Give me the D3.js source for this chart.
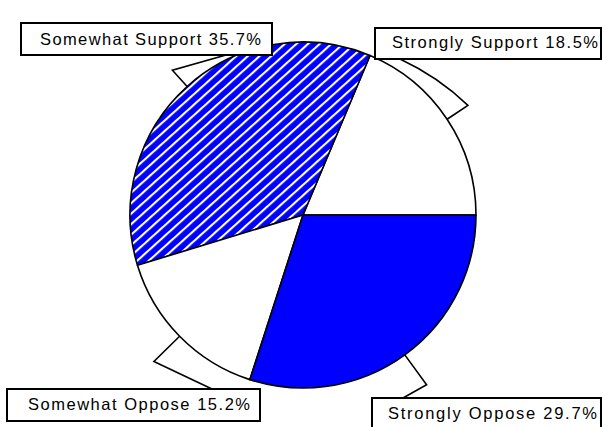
<!DOCTYPE html>
<html>
<head>
<meta charset="utf-8">
<script src="https://cdn.jsdelivr.net/npm/d3@7"></script>
<style>
  body { margin: 0; background: #fff; }
  svg text { font-family: "Liberation Sans", Arial, sans-serif; }
</style>
</head>
<body>
<div id="chart"></div>
<script>
// chart data
var categories = ["Strongly Support", "Somewhat Support", "Somewhat Oppose", "Strongly Oppose"];
var values = [18.5, 35.7, 15.2, 29.7];
var valueLabels = ["18.5%", "35.7%", "15.2%", "29.7%"];

(function() {
    'use strict';

    var width = 602, height = 427;
    var cx = 303, cy = 215, radius = 173;

    var fills = ["#ffffff", "url(#hatch)", "#ffffff", "#0000ff"];

    // label boxes + callout geometry (layout only)
    var callouts = [
        {box: [375, 28, 226, 31], tx: 392, ty: 48, tw: 206, elbow: 198, anchor: [400, 59], bend: true},
        {box: [21, 23, 251, 32], tx: 40, ty: 45, tw: 221, elbow: 195, anchor: [226, 55]},
        {box: [7, 389, 253, 32], tx: 28, ty: 410, tw: 222, elbow: 209, anchor: [212, 389]},
        {box: [372, 398, 229, 35], tx: 388, ty: 419, tw: 209, elbow: 210, anchor: [403, 398]}
    ];

    var svg = d3.select("#chart").append("svg")
        .attr("width", width)
        .attr("height", height);

    // diagonal stripe pattern
    var pat = svg.append("defs").append("pattern")
        .attr("id", "hatch")
        .attr("patternUnits", "userSpaceOnUse")
        .attr("width", 8)
        .attr("height", 7.8)
        .attr("patternTransform", "rotate(-42)");
    pat.append("rect").attr("width", 8).attr("height", 7.8).attr("fill", "#0000ff");
    pat.append("rect").attr("y", 0).attr("width", 8).attr("height", 2.1).attr("fill", "#ffffff");

    // start at 3 o'clock, go counter-clockwise
    var pie = d3.pie()
        .sort(null)
        .startAngle(Math.PI / 2)
        .endAngle(Math.PI / 2 - 2 * Math.PI);

    var arc = d3.arc().innerRadius(0).outerRadius(radius);

    var arcs = pie(values);

    var g = svg.append("g").attr("transform", "translate(" + cx + "," + cy + ")");

    g.selectAll(".slice")
        .data(arcs)
      .enter().append("path")
        .attr("class", "slice")
        .attr("d", arc)
        .attr("fill", function(d, i) { return fills[i]; })
        .attr("stroke", "#000")
        .attr("stroke-width", 1.6)
        .attr("stroke-linejoin", "round");

    function polar(a, r) {
        return [cx + r * Math.sin(a), cy - r * Math.cos(a)];
    }

    // callout tails
    svg.selectAll(".tail")
        .data(arcs)
      .enter().append("path")
        .attr("class", "tail")
        .attr("d", function(d, i) {
            var c = callouts[i];
            var mid = (d.startAngle + d.endAngle) / 2;
            var p0 = polar(mid, radius);
            var p1 = polar(mid, c.elbow);
            var p2 = c.anchor;
            if (c.bend) {
                var q = [(p1[0] + p2[0]) / 2 + 5, (p1[1] + p2[1]) / 2 - 5];
                return "M" + p0 + "L" + p1 + "Q" + q + " " + p2;
            }
            return "M" + p0 + "L" + p1 + "L" + p2;
        })
        .attr("fill", "none")
        .attr("stroke", "#000")
        .attr("stroke-width", 1.6);

    // label boxes
    var lab = svg.selectAll(".label")
        .data(categories)
      .enter().append("g")
        .attr("class", "label");

    lab.append("rect")
        .attr("x", function(d, i) { return callouts[i].box[0]; })
        .attr("y", function(d, i) { return callouts[i].box[1]; })
        .attr("width", function(d, i) { return callouts[i].box[2]; })
        .attr("height", function(d, i) { return callouts[i].box[3]; })
        .attr("fill", "#fff")
        .attr("stroke", "#000")
        .attr("stroke-width", 2);

    lab.append("text")
        .attr("x", function(d, i) { return callouts[i].tx; })
        .attr("y", function(d, i) { return callouts[i].ty; })
        .attr("textLength", function(d, i) { return callouts[i].tw; })
        .attr("lengthAdjust", "spacing")
        .style("font-size", "16.5px")
        .attr("fill", "#000")
        .text(function(d, i) { return d + " " + valueLabels[i]; });
})();
</script>
</body>
</html>
